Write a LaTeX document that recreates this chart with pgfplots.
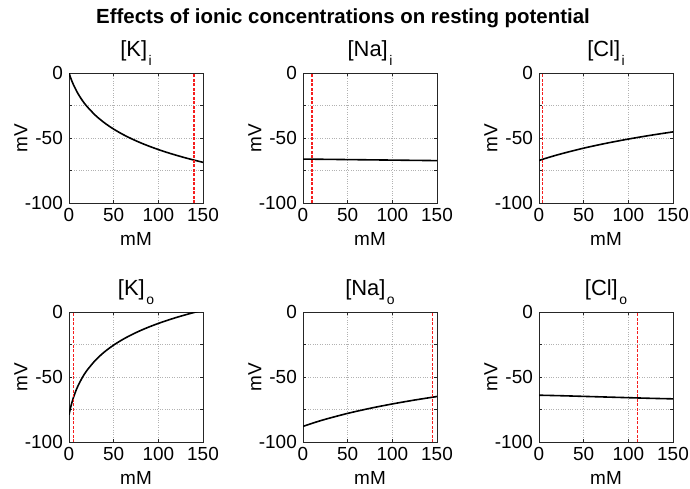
\documentclass[border=0pt]{standalone}
\usepackage{fontspec}
\setmainfont{Liberation Sans}
\usepackage{pgfplots}
\pgfplotsset{compat=1.18}
\definecolor{refred}{RGB}{245,30,30}
\newcommand{\sub}[1]{\kern1.5bp\raisebox{-9bp}{\fontsize{14}{14}\selectfont #1}}
\pgfplotsset{
  panel/.style={
    scale only axis, width=134bp, height=130bp, anchor=south west,
    xmin=0, xmax=150, ymin=-100, ymax=0,
    xtick={0,50,100,150}, xticklabels={0,50,100,150},
    ytick={-100,-75,-50,-25,0}, yticklabels={-100,,-50,,0},
    grid=major, grid style={black!30, dotted, line width=0.5bp},
    axis line style={black!85, line width=0.9bp},
    tick style={black!85, line width=0.6bp},
    tick align=inside, major tick length=3bp,
    ticklabel style={font=\fontsize{19}{19}\selectfont},
    xticklabel style={inner sep=0pt, yshift=-5bp},
    yticklabel style={inner sep=0pt, xshift=-6bp},
    xlabel={mM}, ylabel={mV},
    label style={font=\fontsize{19}{19}\selectfont},
    xlabel style={at={(axis description cs:0.5,0)}, anchor=base, yshift=-42bp},
    ylabel style={at={(axis description cs:-0.31,0.5)}, anchor=base},
    title style={at={(axis description cs:0.5,1)}, anchor=base, yshift=11bp, font=\fontsize{22}{22}\selectfont},
  },
  curve/.style={draw=black, line width=1.6bp, smooth},
  redline/.style={draw=refred, dash pattern=on 3bp off 1.5bp, line width=1.3bp},
}
\begin{document}
\begin{tikzpicture}
\node[anchor=base, font=\bfseries\fontsize{20.5}{20.5}\selectfont] at (343bp,-23bp) {Effects of ionic concentrations on resting potential};

% [K]_i
\begin{axis}[panel, at={(69bp,-203bp)}, title={[K]\sub{i}}]
\addplot[curve] coordinates {(0,0) (1,-2.07) (2,-4.00) (5,-9.05) (10,-15.79) (15,-21.18) (20,-25.65) (30,-32.84) (40,-38.49) (50,-43.16) (60,-47.13) (70,-50.58) (80,-53.65) (90,-56.39) (100,-58.88) (110,-61.16) (120,-63.25) (130,-65.20) (140,-67.01) (150,-68.71)};
\addplot[redline] coordinates {(140,-100) (140,0)};
\end{axis}

% [Na]_i
\begin{axis}[panel, at={(303bp,-203bp)}, title={[Na]\sub{i}}]
\addplot[curve] coordinates {(0,-66.2) (25,-66.4) (50,-66.6) (75,-66.8) (100,-67.0) (125,-67.2) (150,-67.4)};
\addplot[redline] coordinates {(10,-100) (10,0)};
\end{axis}

% [Cl]_i
\begin{axis}[panel, at={(539bp,-203bp)}, title={[Cl]\sub{i}}]
\addplot[curve] coordinates {(0,-67.3) (10,-65.11) (25,-62.14) (50,-57.81) (75,-54.09) (100,-50.82) (125,-47.91) (150,-45.29)};
\addplot[redline] coordinates {(4,-100) (4,0)};
\end{axis}

% [K]_o
\begin{axis}[panel, at={(69bp,-442bp)}, title={[K]\sub{o}}]
\addplot[curve] coordinates {(0,-79.03) (1,-75.79) (2,-72.91) (3,-70.31) (5,-65.76) (7.5,-60.98) (10,-56.93) (15,-50.31) (20,-45.01) (30,-36.80) (40,-30.52) (50,-25.44) (60,-21.18) (70,-17.50) (80,-14.27) (90,-11.39) (100,-8.79) (110,-6.42) (120,-4.24) (130,-2.23) (140,-0.36) (150,1.39)};
\addplot[redline] coordinates {(5,-100) (5,0)};
\end{axis}

% [Na]_o
\begin{axis}[panel, at={(303bp,-442bp)}, title={[Na]\sub{o}}]
\addplot[curve] coordinates {(0,-88.0) (10,-85.67) (25,-82.52) (50,-77.98) (75,-74.10) (100,-70.72) (125,-67.71) (150,-65.01)};
\addplot[redline] coordinates {(145,-100) (145,0)};
\end{axis}

% [Cl]_o
\begin{axis}[panel, at={(539bp,-442bp)}, title={[Cl]\sub{o}}]
\addplot[curve] coordinates {(0,-64.0) (25,-64.4) (50,-64.9) (75,-65.4) (100,-65.9) (125,-66.4) (150,-66.8)};
\addplot[redline] coordinates {(110,-100) (110,0)};
\end{axis}

\pgfresetboundingbox
\path[use as bounding box] (0bp,0bp) rectangle (690bp,-489bp);
\end{tikzpicture}
\end{document}
